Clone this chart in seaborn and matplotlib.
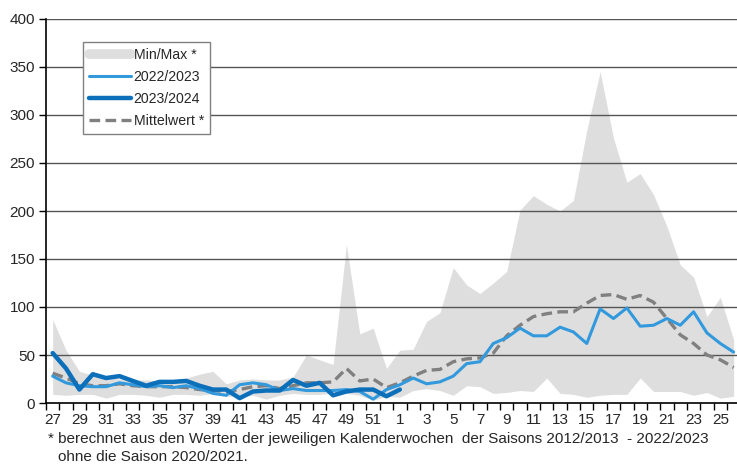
import numpy as np
import pandas as pd
import matplotlib
matplotlib.use("Agg")
import matplotlib.pyplot as plt
import seaborn as sns
from matplotlib.ticker import FixedLocator, NullFormatter

# =====================================
# Data
# =====================================

weeks = list(range(27, 53)) + list(range(1, 27))

max_vals = [87, 55, 33, 29, 27, 25, 24, 24, 23, 22, 26, 30, 33, 20, 24, 25,
            24, 24, 27, 50, 45, 40, 165, 72, 78, 36,
            55, 56, 85, 94, 141, 123, 114, 125, 137, 201, 216, 207, 200, 211,
            284, 345, 276, 230, 239, 217, 184, 144, 131, 90, 110, 66]

min_vals = [9, 8, 9, 9, 5, 9, 9, 8, 6, 9, 9, 8, 10, 7, 7, 8,
            4, 8, 10, 9, 9, 10, 10, 8, 3, 7,
            6, 13, 15, 13, 8, 18, 17, 10, 11, 13, 12, 26, 10, 9,
            6, 8, 9, 9, 26, 12, 12, 12, 8, 11, 5, 7]

season_2022 = [28, 21, 18, 17, 17, 21, 19, 17, 18, 16, 18, 15, 10, 8, 19, 21,
               19, 13, 15, 13, 13, 13, 14, 12, 4, 14,
               19, 26, 20, 22, 28, 41, 43, 62, 68, 78, 70, 70, 79, 74,
               62, 98, 88, 99, 80, 81, 88, 81, 95, 73, 62, 53]

season_2023 = [52, 36, 14, 30, 26, 28, 23, 18, 22, 22, 23, 18, 14, 14, 5, 12,
               13, 13, 24, 18, 21, 8, 12, 14, 14, 7,
               14]

mean_vals = [31, 26, 20, 18, 18, 20, 18, 17, 17, 17, 16, 14, 13, 12, 14, 17,
             18, 15, 18, 21, 21, 22, 36, 23, 25, 16,
             21, 28, 34, 35, 43, 46, 47, 52, 70, 81, 90, 93, 95, 95,
             104, 112, 113, 108, 112, 105, 88, 71, 62, 50, 45, 37]

df = pd.DataFrame({
    "pos": np.arange(len(weeks)),
    "week": weeks,
    "max": max_vals,
    "min": min_vals,
    "2022/2023": season_2022,
    "2023/2024": season_2023 + [np.nan] * (len(weeks) - len(season_2023)),
    "Mittelwert *": mean_vals,
})

# =====================================
# Style
# =====================================

sns.set_style("white")
plt.rcParams["font.family"] = ["Liberation Sans", "DejaVu Sans"]
plt.rcParams["font.size"] = 10

light_blue = "#3399DD"
dark_blue = "#0B6FBA"
band_grey = "#DEDEDE"
mean_grey = "#808080"

fig = plt.figure(figsize=(7.37, 4.65), dpi=100)
ax = fig.add_axes([46 / 737, 62 / 465, 691 / 737, 384 / 465])

# =====================================
# Plot
# =====================================

ax.fill_between(df["pos"], df["min"], df["max"], color=band_grey,
                linewidth=0, zorder=1, label="Min/Max *")

for yv in range(50, 401, 50):
    ax.axhline(yv, color="#555555", linewidth=1.0, zorder=2)

sns.lineplot(data=df, x="pos", y="2022/2023", ax=ax, color=light_blue,
             linewidth=2.2, label="2022/2023", zorder=4)
sns.lineplot(data=df, x="pos", y="2023/2024", ax=ax, color=dark_blue,
             linewidth=3.2, label="2023/2024", zorder=5)
sns.lineplot(data=df, x="pos", y="Mittelwert *", ax=ax, color=mean_grey,
             linewidth=2.4, label="Mittelwert *", zorder=3)
ax.lines[-1].set_dashes([3.2, 1.6])

# =====================================
# Axes
# =====================================

ax.set_xlim(-0.5, 51.25)
ax.set_ylim(0, 400)
ax.set_xlabel("")
ax.set_ylabel("")

ax.set_yticks(range(0, 401, 50))
ax.tick_params(axis="y", direction="out", length=5, width=1, color="black",
               left=True, pad=3, labelsize=11)

ax.set_xticks(df["pos"][::2])
ax.set_xticklabels([str(w) for w in weeks[::2]])
ax.tick_params(axis="x", which="major", length=0, pad=7, labelsize=11)
ax.xaxis.set_minor_locator(FixedLocator(np.arange(-0.5, 52, 1)))
ax.xaxis.set_minor_formatter(NullFormatter())
ax.tick_params(axis="x", which="minor", direction="out", length=5, width=1,
               color="black", bottom=True)

for side in ["top", "right"]:
    ax.spines[side].set_visible(False)
for side in ["left", "bottom"]:
    ax.spines[side].set_color("black")
    ax.spines[side].set_linewidth(1.2)
    ax.spines[side].set_zorder(6)

# =====================================
# Legend
# =====================================

handles, labels = ax.get_legend_handles_labels()
order = ["Min/Max *", "2022/2023", "2023/2024", "Mittelwert *"]
hmap = dict(zip(labels, handles))
hmap["Min/Max *"] = plt.Line2D([], [], color=band_grey, linewidth=7)
hmap["Mittelwert *"] = plt.Line2D([], [], color=mean_grey, linewidth=2.4,
                                  dashes=[3.2, 1.6])

leg = ax.legend([hmap[k] for k in order], order,
                loc="upper left", bbox_to_anchor=(0.053, 0.94),
                frameon=True, fancybox=False, edgecolor="#808080",
                framealpha=1, handlelength=3.0, handletextpad=0.15,
                labelspacing=0.55, borderpad=0.45, fontsize=10.2,
                borderaxespad=0)
leg.get_frame().set_linewidth(1.0)

# =====================================
# Footnote
# =====================================

fig.text(48 / 737, 1 - 439 / 465,
         "* berechnet aus den Werten der jeweiligen Kalenderwochen  der Saisons 2012/2013  - 2022/2023",
         fontsize=11, va="center", ha="left")
fig.text(58 / 737, 1 - 457 / 465, "ohne die Saison 2020/2021.",
         fontsize=11, va="center", ha="left")

fig.savefig("out.png", dpi=100)
